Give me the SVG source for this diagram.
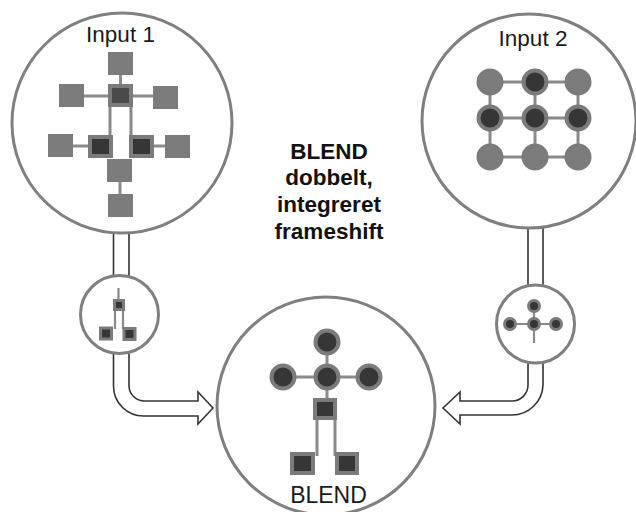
<svg xmlns="http://www.w3.org/2000/svg" width="636" height="512" viewBox="0 0 636 512">
  <style>
    .ring { fill: #ffffff; stroke: #7f7f7f; stroke-width: 3; }
    .pipe { fill: #ffffff; stroke: #333333; stroke-width: 1.6; stroke-linejoin: miter; }
    .edge { stroke: #8a8a8a; stroke-width: 3; fill: none; }
    .edge-thin { stroke: #8a8a8a; stroke-width: 2.2; fill: none; }
    .lt { fill: #7b7b7b; }
    .dk { fill: #363636; stroke: #7b7b7b; stroke-width: 4; }
    .dk-mid { fill: #4a4a4a; stroke: #7b7b7b; stroke-width: 4; }
    .dk-s { fill: #363636; stroke: #7b7b7b; stroke-width: 3; }
    .lbl { font-family: "Liberation Sans", Arial, sans-serif; font-size: 22.5px; fill: #1a1a1a; text-anchor: middle; }
    .title { font-family: "Liberation Sans", Arial, sans-serif; font-size: 22.5px; font-weight: bold; fill: #111111; text-anchor: middle; }
  </style>

  <rect width="636" height="512" fill="#ffffff"/>

  <!-- pipes and block arrows -->
  <g id="connectors">
    <rect class="pipe" x="113.5" y="224" width="15.5" height="58"/>
    <rect class="pipe" x="528" y="222" width="15" height="68"/>
    <path class="pipe" d="M113.5,350 L113.5,386 A30,30 0 0 0 143.5,416 L198,416 L198,424 L213,408 L198,392 L198,401 L143.5,401 A15.5,15.5 0 0 1 129,386 L129,350"/>
    <path class="pipe" d="M528,358 L528,385 A16,16 0 0 1 512,401 L460,401 L460,392 L443,408 L460,424 L460,415 L512,415 A31,31 0 0 0 543,385 L543,358"/>
  </g>

  <!-- Input 1: square graph -->
  <g id="input1">
    <circle class="ring" cx="122" cy="123" r="110"/>
    <text class="lbl" x="120.5" y="42">Input 1</text>
    <path class="edge" d="M120.5,75 V86 M84,96 H153 M110,107 V140 M131,107 V140 M73,146 H90 M152,146 H165 M120,182 V194"/>
    <rect class="lt" x="108" y="52" width="25" height="23"/>
    <rect class="lt" x="59" y="84" width="25" height="23"/>
    <rect class="dk-mid" x="110" y="86" width="21" height="19"/>
    <rect class="lt" x="153" y="86" width="25" height="23"/>
    <rect class="lt" x="48" y="134" width="25" height="23"/>
    <rect class="dk" x="90" y="137" width="21" height="19"/>
    <rect class="dk" x="131" y="137" width="21" height="19"/>
    <rect class="lt" x="165" y="135" width="25" height="23"/>
    <rect class="lt" x="107" y="159" width="25" height="23"/>
    <rect class="lt" x="108" y="194" width="25" height="23"/>
  </g>

  <!-- Input 2: circle grid -->
  <g id="input2">
    <circle class="ring" cx="529" cy="121" r="107"/>
    <text class="lbl" x="533" y="46">Input 2</text>
    <path class="edge" d="M490,82 H578 M490,118 H578 M490,157 H578 M490,82 V157 M535,82 V157 M578,82 V157"/>
    <circle class="lt" cx="490" cy="82" r="13.5"/>
    <circle class="dk" cx="535" cy="82" r="11.5"/>
    <circle class="lt" cx="578" cy="82" r="13.5"/>
    <circle class="dk" cx="490" cy="118" r="11.5"/>
    <circle class="dk" cx="535" cy="118" r="11.5"/>
    <circle class="dk" cx="578" cy="118" r="11.5"/>
    <circle class="lt" cx="490" cy="157" r="13.5"/>
    <circle class="lt" cx="535" cy="157" r="13.5"/>
    <circle class="lt" cx="578" cy="157" r="13.5"/>
  </g>

  <!-- fragment taken from Input 1 -->
  <g id="fragment1">
    <circle class="ring" cx="119.5" cy="314.5" r="39"/>
    <path class="edge-thin" d="M118.5,288 V300 M115,310 V329 M123,310 V329"/>
    <rect class="dk-s" x="114.5" y="300.5" width="9" height="9"/>
    <rect class="dk-s" x="100.5" y="328" width="11" height="11"/>
    <rect class="dk-s" x="124" y="328.5" width="11" height="11"/>
  </g>

  <!-- fragment taken from Input 2 -->
  <g id="fragment2">
    <circle class="ring" cx="535.5" cy="324" r="39"/>
    <path class="edge-thin" d="M534,306 V343 M510,324 H556"/>
    <circle class="dk-s" cx="534" cy="306" r="5.5"/>
    <circle class="dk-s" cx="510" cy="324" r="5.5"/>
    <circle class="dk-s" cx="534" cy="324" r="5.5"/>
    <circle class="dk-s" cx="556" cy="324" r="5.5"/>
  </g>

  <!-- combined result -->
  <g id="blend">
    <circle class="ring" cx="326" cy="406" r="109"/>
    <path class="edge" d="M327,342 V400 M283,377 H369 M317,418 V456 M335,418 V456"/>
    <circle class="dk" cx="327" cy="342" r="11.5"/>
    <circle class="dk" cx="283" cy="377" r="11.5"/>
    <circle class="dk" cx="327" cy="377" r="11.5"/>
    <circle class="dk" cx="369" cy="377" r="11.5"/>
    <rect class="dk" x="315" y="400" width="20" height="18"/>
    <rect class="dk" x="292" y="454" width="21" height="19"/>
    <rect class="dk" x="337" y="454" width="20" height="19"/>
    <text class="lbl" x="328.5" y="502.5" style="font-size:23px">BLEND</text>
  </g>

  <!-- central caption -->
  <g id="caption">
    <text class="title" x="329" y="158.5">BLEND</text>
    <text class="title" x="329" y="185">dobbelt,</text>
    <text class="title" x="329" y="212">integreret</text>
    <text class="title" x="329" y="239">frameshift</text>
  </g>
</svg>
